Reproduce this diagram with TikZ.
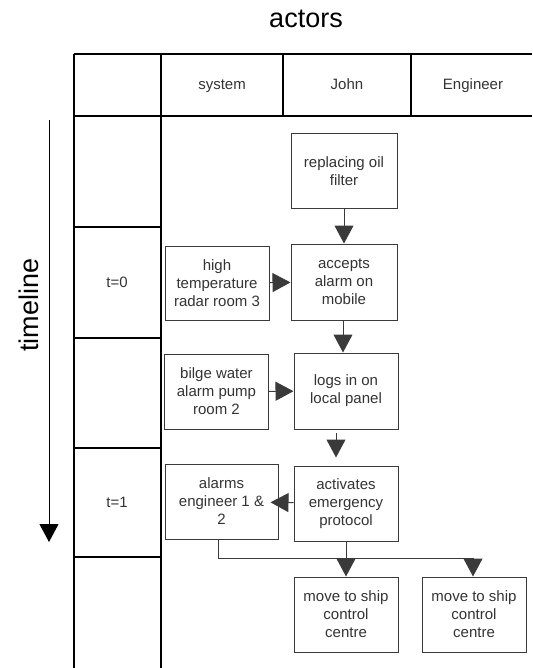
\documentclass[tikz,border=0pt]{standalone}
\usepackage{fontspec}
\setmainfont{Liberation Sans}
\usetikzlibrary{arrows.meta}
\definecolor{txtgray}{HTML}{333333}
\definecolor{boxgray}{HTML}{3A3A3A}

\begin{document}
\begin{tikzpicture}[x=1pt, y=-1pt,
        grid/.style={line width=1.2pt, black},
        cell/.style={text=txtgray, font=\fontsize{15}{18}\selectfont, text height=11pt, text depth=3pt},
        actbox/.style={draw=boxgray, line width=1pt, text=txtgray, align=center,
            font=\fontsize{15}{18}\selectfont, minimum width=104pt, minimum height=75pt, inner sep=0pt},
        arr/.style={draw=boxgray, line width=1pt, -{Triangle[length=18pt, width=19pt]}},
        big/.style={font=\fontsize{27}{30}\selectfont}]
    \useasboundingbox (0,0) rectangle (532,668);

    % titles
    \node[big] (actors) at (306,19) {actors};
    \node[big, rotate=90] (timeline) at (29,305) {timeline};
    \coordinate (tlstart) at (49,120);
    \coordinate (tlend) at (49,542);
    \draw[arr, draw=black] (tlstart) -- (tlend);

    % table
    \draw[grid] (74,54) -- (532,54);
    \draw[grid] (74,116) -- (532,116);
    \draw[grid] (74,54) -- (74,668);
    \draw[grid] (161,54) -- (161,668);
    \draw[grid] (283,54) -- (283,116);
    \draw[grid] (411,54) -- (411,116);
    \foreach \y in {227,338,448,557}
        \draw[grid] (74,\y) -- (161,\y);

    \node[cell] (system) at (222,86) {system};
    \node[cell] (john) at (347,86) {John};
    \node[cell] (engineer) at (473,86) {Engineer};
    \node[cell] (t0) at (117,283) {t=0};
    \node[cell] (t1) at (117,503) {t=1};

    % activities
    \node[actbox, minimum width=106pt, minimum height=74pt] (repl) at (344,171) {replacing oil\\filter};
    \node[actbox, minimum width=106pt, minimum height=76pt] (accept) at (344,282) {accepts\\alarm on\\mobile};
    \node[actbox, minimum height=74pt] (hightemp) at (217,283) {high\\temperature\\radar room 3};
    \node[actbox] (bilge) at (216.5,391.5) {bilge water\\alarm pump\\room 2};
    \node[actbox, minimum height=76pt] (logs) at (346,391) {logs in on\\local panel};
    \node[actbox] (protocol) at (346,503.5) {activates\\emergency\\protocol};
    \node[actbox, minimum width=113pt] (alarms) at (221.5,501.5) {alarms\\engineer 1 \&\\2};
    \node[actbox] (move1) at (346,614.5) {move to ship\\control\\centre};
    \node[actbox] (move2) at (474,614.5) {move to ship\\control\\centre};

    % connectors
    \draw[arr] (repl) -- (accept);
    \draw[arr] (hightemp) -- (accept);
    \draw[arr] ([xshift=-1pt]accept.south) -- ([xshift=-1pt]accept.south |- logs.north);
    \draw[arr] (bilge) -- (logs);
    \draw[arr, shorten <=3pt, shorten >=8pt] ([xshift=-10pt]logs.south) -- ([xshift=-10pt]logs.south |- protocol.north);
    \draw[arr, shorten >=-8pt] (protocol) -- (alarms);
    \draw[arr] (protocol) -- (move1);
    \draw[arr] ([xshift=-3pt]alarms.south) |- (473,558) -- ([xshift=-1pt]move2.north);
\end{tikzpicture}
\end{document}
